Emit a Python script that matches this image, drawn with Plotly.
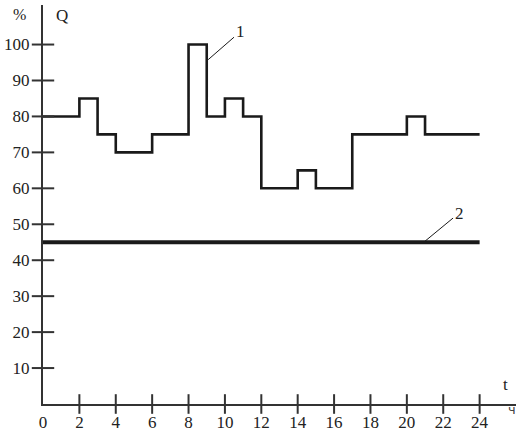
import plotly.graph_objects as go

# Data
hours = [0, 2, 3, 4, 6, 8, 9, 10, 11, 12, 14, 15, 17, 20, 21, 24]
load_q = [80, 85, 75, 70, 75, 100, 80, 85, 80, 60, 65, 60, 75, 80, 75, 75]
avg_hours = [0, 24]
avg_q = [45, 45]
x_ticks = [2, 4, 6, 8, 10, 12, 14, 16, 18, 20, 22, 24]
x_labels = ["0"] + [str(v) for v in x_ticks]
y_ticks = [10, 20, 30, 40, 50, 60, 70, 80, 90, 100]

FONT = "Liberation Serif, Times New Roman, serif"
INK = "#1a1a1a"
AX = "#333333"

fig = go.Figure()

fig.add_trace(go.Scatter(x=hours, y=load_q, mode="lines", line_shape="hv",
                         line=dict(color=INK, width=2.6), hoverinfo="skip"))
fig.add_trace(go.Scatter(x=avg_hours, y=avg_q, mode="lines",
                         line=dict(color=INK, width=4), hoverinfo="skip"))
# crossing tick marks
fig.add_trace(go.Scatter(x=x_ticks, y=[0] * len(x_ticks), mode="markers",
                         marker=dict(symbol="line-ns", size=14, line=dict(color=AX, width=2)),
                         cliponaxis=False, hoverinfo="skip"))
fig.add_trace(go.Scatter(x=[0] * len(y_ticks), y=y_ticks, mode="markers",
                         marker=dict(symbol="line-ew", size=16, line=dict(color=AX, width=2)),
                         cliponaxis=False, hoverinfo="skip"))

fig.update_layout(
    width=522, height=438,
    margin=dict(l=43, r=6, t=5, b=34),
    paper_bgcolor="white", plot_bgcolor="white",
    showlegend=False,
    font=dict(family=FONT, size=17, color="#222"),
    xaxis=dict(range=[0, 26], showgrid=False, zeroline=False, showline=True,
               linecolor=AX, linewidth=2, ticks="", tickvals=[0] + x_ticks,
               ticktext=x_labels, ticklabelstandoff=2, automargin=False,
               tickfont=dict(family=FONT, size=17, color="#222")),
    yaxis=dict(range=[0, 111], showgrid=False, zeroline=False, showline=True,
               linecolor=AX, linewidth=2, ticks="", tickvals=y_ticks,
               ticklabelstandoff=8, automargin=False,
               tickfont=dict(family=FONT, size=17, color="#222")),
    annotations=[
        dict(xref="paper", yref="paper", x=-0.049, y=0.977, text="%",
             xanchor="center", yanchor="middle", showarrow=False, font=dict(size=16)),
        dict(x=1.04, y=108.2, text="Q", showarrow=False, font=dict(size=17)),
        dict(x=25.4, y=5.3, text="t", showarrow=False, font=dict(size=17)),
        dict(xref="paper", yref="paper", x=0.9915, y=-0.013, text="ч",
             xanchor="center", yanchor="middle", showarrow=False,
             font=dict(family="DejaVu Sans", size=13, color="#444")),
        dict(x=9.08, y=95.8, ax=10.83, ay=103.5, axref="x", ayref="y", text="1",
             showarrow=True, arrowhead=0, arrowwidth=1, arrowcolor=INK,
             font=dict(size=17)),
        dict(x=21.0, y=45.3, ax=22.87, ay=53.1, axref="x", ayref="y", text="2",
             showarrow=True, arrowhead=0, arrowwidth=1, arrowcolor=INK,
             font=dict(size=17)),
    ],
)

fig.write_html("out.html", config={"displayModeBar": False},
               post_script="document.body.style.margin='0';document.body.style.overflow='hidden';")
